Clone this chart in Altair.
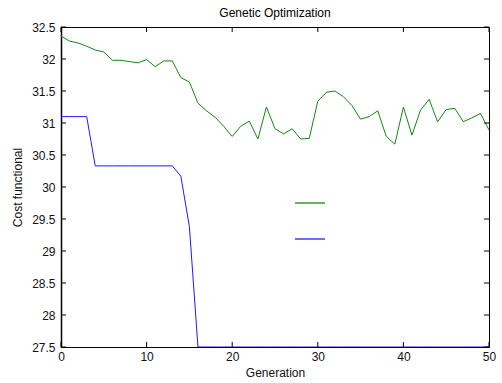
import altair as alt
import pandas as pd

# Generation index and the two cost series
generation = list(range(51))
mean_cost = [32.36, 32.28, 32.25, 32.20, 32.14, 32.11, 31.98, 31.98, 31.96, 31.94,
             31.99, 31.88, 31.97, 31.97, 31.71, 31.64, 31.31, 31.19, 31.09, 30.95,
             30.79, 30.95, 31.03, 30.75, 31.25, 30.91, 30.83, 30.91, 30.75, 30.76,
             31.34, 31.48, 31.50, 31.41, 31.27, 31.06, 31.10, 31.19, 30.79, 30.67,
             31.25, 30.81, 31.20, 31.37, 31.02, 31.21, 31.23, 31.02, 31.08, 31.15,
             30.89]
best_cost = [31.10, 31.10, 31.10, 31.10, 30.33, 30.33, 30.33, 30.33, 30.33, 30.33,
             30.33, 30.33, 30.33, 30.33, 30.17, 29.38] + [27.5] * 35

series_names = ["Mean", "Best"]
series_colors = ["#118811", "#1a1aff"]

x_ticks = [0, 10, 20, 30, 40, 50]
y_ticks = [27.5, 28, 28.5, 29, 29.5, 30, 30.5, 31, 31.5, 32, 32.5]

W, H = 428, 320
FONT = "Liberation Sans"

rows = []
for g, m, b in zip(generation, mean_cost, best_cost):
    rows.append({"Generation": g, "cost": m, "series": series_names[0]})
    rows.append({"Generation": g, "cost": b, "series": series_names[1]})
df = pd.DataFrame(rows)

xscale = alt.Scale(domain=[0, 50], nice=False, zero=False)
yscale = alt.Scale(domain=[27.5, 32.5], nice=False, zero=False)
x_axis = alt.Axis(values=x_ticks, ticks=False, labelPadding=4,
                  labelFlush=False, labelOverlap=False, format="d",
                  title="Generation", titlePadding=5, grid=False,
                  domainColor="black")
y_axis = alt.Axis(values=y_ticks, ticks=False, labelPadding=6,
                  labelFlush=False, labelOverlap=False, format="~g",
                  title="Cost functional", titlePadding=7, grid=False,
                  domainColor="black", domainWidth=1.5)

lines = alt.Chart(df).mark_line(strokeWidth=1, clip=True).encode(
    x=alt.X("Generation:Q", scale=xscale, axis=x_axis, title="Generation"),
    y=alt.Y("cost:Q", scale=yscale, axis=y_axis, title="Cost functional"),
    color=alt.Color("series:N",
                    scale=alt.Scale(domain=series_names, range=series_colors),
                    sort=series_names,
                    legend=alt.Legend(orient="none", legendX=233, legendY=160,
                                      title=None, symbolType="stroke",
                                      symbolSize=900, symbolStrokeWidth=1.5,
                                      symbolOpacity=0.85,
                                      labelExpr="''", labelFontSize=1,
                                      rowPadding=17, padding=0)),
    order="Generation:Q",
)

# inward tick marks on all four sides of the frame
xt = pd.DataFrame({"t": x_ticks})
yt = pd.DataFrame({"t": y_ticks})
tick_style = dict(color="black", strokeWidth=1)
xenc = alt.X("t:Q", scale=xscale, axis=x_axis, title="Generation")
yenc = alt.Y("t:Q", scale=yscale, axis=y_axis, title="Cost functional")
xb = alt.Chart(xt).mark_rule(**tick_style).encode(
    x=xenc, y=alt.value(H), y2=alt.value(H - 5))
xtop = alt.Chart(xt).mark_rule(**tick_style).encode(
    x=xenc, y=alt.value(0), y2=alt.value(5))
yl = alt.Chart(yt).mark_rule(**tick_style).encode(
    y=yenc, x=alt.value(0), x2=alt.value(5))
yr = alt.Chart(yt).mark_rule(**tick_style).encode(
    y=yenc, x=alt.value(W), x2=alt.value(W - 5))

chart = alt.layer(lines, xb, xtop, yl, yr).properties(
    width=W, height=H,
    title=alt.Title("Genetic Optimization", fontSize=12, fontWeight="normal",
                    font=FONT, color="black", offset=1),
    autosize=alt.AutoSizeParams(type="none"),
    padding={"left": 61, "top": 27, "right": 13, "bottom": 36},
    background="white",
).configure_view(
    stroke="black", strokeWidth=1
).configure_axis(
    labelFont=FONT, titleFont=FONT, labelFontSize=12, titleFontSize=12,
    labelColor="#111", titleColor="#111", titleFontWeight="normal",
)

chart.save("out.html", embed_options={"renderer": "svg", "actions": False})
